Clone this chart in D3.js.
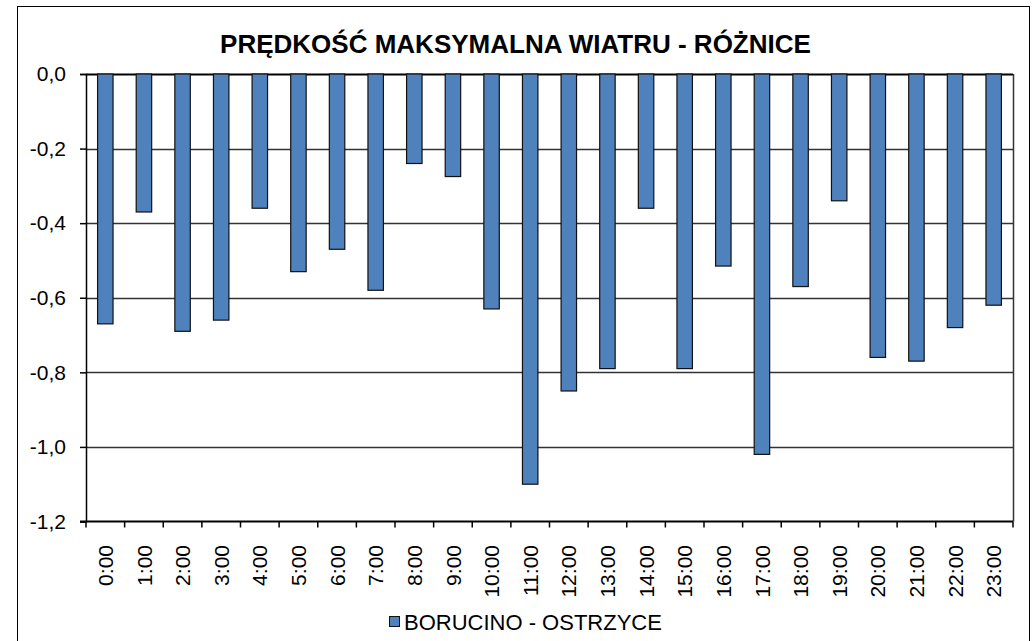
<!DOCTYPE html>
<html>
<head>
<meta charset="utf-8">
<script src="https://cdn.jsdelivr.net/npm/d3@7"></script>
<style>
  html, body { margin: 0; padding: 0; background: #fff; }
  svg { display: block; font-family: "Liberation Sans", Arial, sans-serif; }
</style>
</head>
<body>
<script>
const title = "PRĘDKOŚĆ MAKSYMALNA WIATRU - RÓŻNICE";
const seriesName = "BORUCINO - OSTRZYCE";
const categories = ["0:00","1:00","2:00","3:00","4:00","5:00","6:00","7:00","8:00","9:00","10:00","11:00",
                    "12:00","13:00","14:00","15:00","16:00","17:00","18:00","19:00","20:00","21:00","22:00","23:00"];
const values = [-0.67,-0.37,-0.69,-0.66,-0.36,-0.53,-0.47,-0.58,-0.24,-0.275,-0.63,-1.10,
                -0.85,-0.79,-0.36,-0.79,-0.515,-1.02,-0.57,-0.34,-0.76,-0.77,-0.68,-0.62];
const yTicks = [0,-0.2,-0.4,-0.6,-0.8,-1.0,-1.2];

const W = 1036, H = 641;
const plot = {left: 86, right: 1013, top: 74, bottom: 521.5};
const barColor = "#4F81BD";

const svg = d3.select("body").append("svg").attr("width", W).attr("height", H);
svg.append("rect").attr("width", W).attr("height", H).attr("fill", "#fff");

// outer chart border
svg.append("rect").attr("x", 17.5).attr("y", 6.5).attr("width", 1029 - 17).attr("height", 700)
  .attr("fill", "#fff").attr("stroke", "#000").attr("stroke-width", 1);

const x = d3.scaleBand().domain(categories).range([plot.left, plot.right])
  .paddingInner(0.6).paddingOuter(0.3);
const xStep = (plot.right - plot.left) / categories.length;
const y = d3.scaleLinear().domain([-1.2, 0]).range([plot.bottom, plot.top]);

// gridlines
svg.append("g").selectAll("line").data(yTicks.filter(t => t !== -1.2)).join("line")
  .attr("x1", plot.left).attr("x2", plot.right)
  .attr("y1", d => Math.round(y(d)) + 0.5).attr("y2", d => Math.round(y(d)) + 0.5)
  .attr("stroke", d => d === 0 ? "#000" : "#333").attr("stroke-width", d => d === 0 ? 2 : 1.5);

// right border of plot area
svg.append("line").attr("x1", plot.right + 0.5).attr("x2", plot.right + 0.5)
  .attr("y1", plot.top).attr("y2", plot.bottom).attr("stroke", "#333").attr("stroke-width", 1.5);

// bars
svg.append("g").selectAll("rect").data(values).join("rect")
  .attr("x", (d, i) => x(categories[i]))
  .attr("y", d => y(0))
  .attr("width", x.bandwidth())
  .attr("height", d => y(d) - y(0))
  .attr("fill", barColor).attr("stroke", "#111").attr("stroke-width", 1.2);

// y axis
const yAxis = d3.axisLeft(y).tickValues(yTicks).tickSize(6).tickPadding(14)
  .tickFormat(d => d3.format(".1f")(d).replace(".", ",").replace("−", "-"));
const gy = svg.append("g").attr("transform", `translate(${plot.left},0)`).call(yAxis);
gy.select(".domain").attr("stroke", "#000").attr("stroke-width", 1.5);
gy.selectAll(".tick line").attr("stroke", "#000").attr("stroke-width", 1.5);
gy.selectAll(".tick text").attr("font-size", 21).attr("fill", "#000")
  .attr("font-family", "Liberation Sans, Arial, sans-serif");

// x axis at bottom with ticks at category boundaries
svg.append("line").attr("x1", plot.left - 6).attr("x2", plot.right)
  .attr("y1", plot.bottom).attr("y2", plot.bottom).attr("stroke", "#000").attr("stroke-width", 2);
const bounds = d3.range(categories.length + 1).map(i => plot.left + i * xStep);
svg.append("g").selectAll("line").data(bounds).join("line")
  .attr("x1", d => d).attr("x2", d => d)
  .attr("y1", plot.bottom).attr("y2", plot.bottom + 6)
  .attr("stroke", "#000").attr("stroke-width", 1.5);

svg.append("g").selectAll("text").data(categories).join("text")
  .attr("transform", d => `translate(${x(d) + x.bandwidth() / 2},545) rotate(-90)`)
  .attr("text-anchor", "end").attr("dy", "0.36em")
  .attr("font-size", 21).attr("fill", "#000").text(d => d);

// title
svg.append("text").attr("x", 515.5).attr("y", 53).attr("text-anchor", "middle")
  .attr("font-size", 26).attr("font-weight", "bold").attr("fill", "#000").text(title);

// legend
svg.append("rect").attr("x", 389.5).attr("y", 616.5).attr("width", 10).attr("height", 10)
  .attr("fill", barColor).attr("stroke", "#111").attr("stroke-width", 1);
svg.append("text").attr("x", 404).attr("y", 622).attr("dy", "0.36em")
  .attr("font-size", 22).attr("fill", "#000").text(seriesName);
</script>
</body>
</html>
